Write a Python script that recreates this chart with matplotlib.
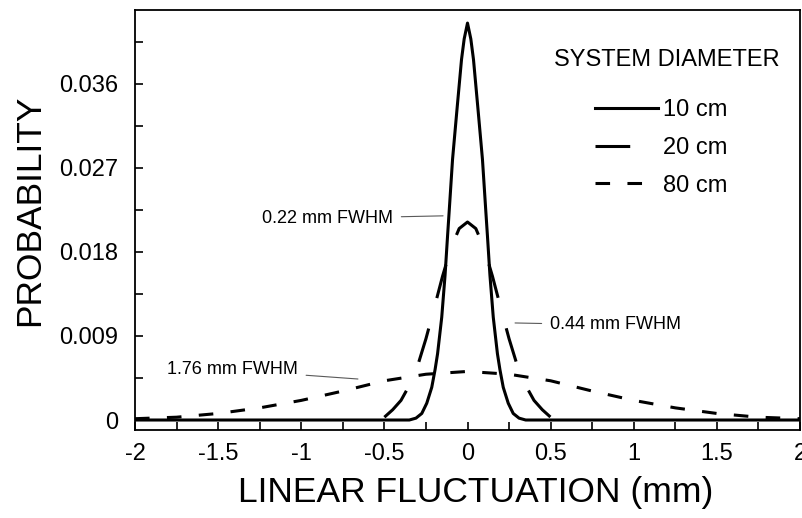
import numpy as np
import matplotlib
matplotlib.use('Agg')
from matplotlib import pyplot as plt

plt.rcParams['font.family'] = ['Liberation Sans', 'DejaVu Sans']
plt.rcParams['lines.scale_dashes'] = False

# 10 cm system (right half; mirrored below)
x10_half = [0, 0.02, 0.036, 0.063, 0.09, 0.11, 0.12, 0.135, 0.155, 0.18,
            0.195, 0.215, 0.245, 0.275, 0.31, 0.35, 2.0]
y10_half = [0.0425, 0.0408, 0.0386, 0.0333, 0.0279, 0.0224, 0.0197, 0.0155,
            0.0110, 0.0071, 0.0054, 0.0035, 0.0018, 0.0007, 0.0002, 0, 0]

# 20 cm system
x20_half = [0, 0.05, 0.1, 0.15, 0.2, 0.25, 0.3, 0.35, 0.4, 0.45, 0.5]
y20_half = [0.0212, 0.0205, 0.0184, 0.0154, 0.0120, 0.0087, 0.0058, 0.0037,
            0.0021, 0.0011, 0.0003]

# 80 cm system
x80_half = [0, 0.25, 0.5, 0.75, 1.0, 1.25, 1.5, 1.75, 2.0]
y80_half = [0.0052, 0.0049, 0.0042, 0.0031, 0.0021, 0.0013, 0.0007, 0.0003, 0.00014]

xtick_vals = [-2, -1.5, -1, -0.5, 0, 0.5, 1, 1.5, 2]
xtick_labels = ['-2', '-1.5', '-1', '-0.5', '0', '0.5', '1', '1.5', '2']
ytick_vals = [0, 0.009, 0.018, 0.027, 0.036]
ytick_labels = ['0', '0.009', '0.018', '0.027', '0.036']


def mirror(xh, yh):
    # build the full symmetric curve from the right half
    x = np.concatenate([-np.array(xh[:0:-1]), np.array(xh)])
    y = np.concatenate([np.array(yh[:0:-1]), np.array(yh)])
    return x, y


x10, y10 = mirror(x10_half, y10_half)
x20, y20 = mirror(x20_half, y20_half)
x80, y80 = mirror(x80_half, y80_half)

fig = plt.figure(figsize=(8.02, 5.18), dpi=100)
ax = fig.add_axes([135/802, 1-430/518, 665/802, 420/518])

l80, = ax.plot(x80, y80, color='black', lw=2.2, linestyle=(0, (10.5, 12.5)), label='80 cm')
l20, = ax.plot(x20, y20, color='black', lw=2.2, linestyle=(0, (25, 22.7)), label='20 cm')
l10, = ax.plot(x10, y10, color='black', lw=2.2, label='10 cm')

ax.set_xlim(-2, 2)
ax.set_ylim(-0.00107, 0.0439)

ax.set_xticks(xtick_vals, xtick_labels)
ax.set_xticks(np.arange(-1.75, 2, 0.5), minor=True)
ax.set_yticks(ytick_vals, ytick_labels)
ax.set_yticks([0.0045, 0.0135, 0.0225, 0.0315, 0.0405], minor=True)
ax.tick_params(which='both', direction='in', length=6, width=1.2,
               top=False, right=False, labelsize=17)
ax.tick_params(axis='y', pad=12)
ax.tick_params(axis='x', pad=9)
for s in ax.spines.values():
    s.set_linewidth(1.3)

ax.set_ylabel('PROBABILITY', fontsize=25.5, va='center')
ax.yaxis.set_label_coords(-0.159, 0.524)
ax.set_xlabel('LINEAR FLUCTUATION (mm)', fontsize=25.5, va='center')
ax.xaxis.set_label_coords(0.513, -0.148)

# legend
ax.text(0.800, 0.881, 'SYSTEM DIAMETER', transform=ax.transAxes,
        ha='center', va='center', fontsize=17)
ax.legend(handles=[l10, l20, l80], loc='upper left', bbox_to_anchor=(0.692, 0.788),
          frameon=False, fontsize=17, handlelength=2.67, handletextpad=0.22,
          labelspacing=0.67, borderpad=0, borderaxespad=0)

# FWHM labels
arrow = dict(arrowstyle='-', lw=0.8, color='0.35', shrinkA=4, shrinkB=0)
ax.annotate('0.22 mm FWHM', xy=(-0.147, 0.02186), xytext=(-1.236, 0.0216),
            ha='left', va='center', fontsize=13, arrowprops=arrow)
ax.annotate('0.44 mm FWHM', xy=(0.286, 0.01039), xytext=(0.496, 0.01018),
            ha='left', va='center', fontsize=13, arrowprops=arrow)
ax.annotate('1.76 mm FWHM', xy=(-0.659, 0.00439), xytext=(-1.808, 0.00536),
            ha='left', va='center', fontsize=13, arrowprops=arrow)

fig.savefig('out.png', dpi=100)
